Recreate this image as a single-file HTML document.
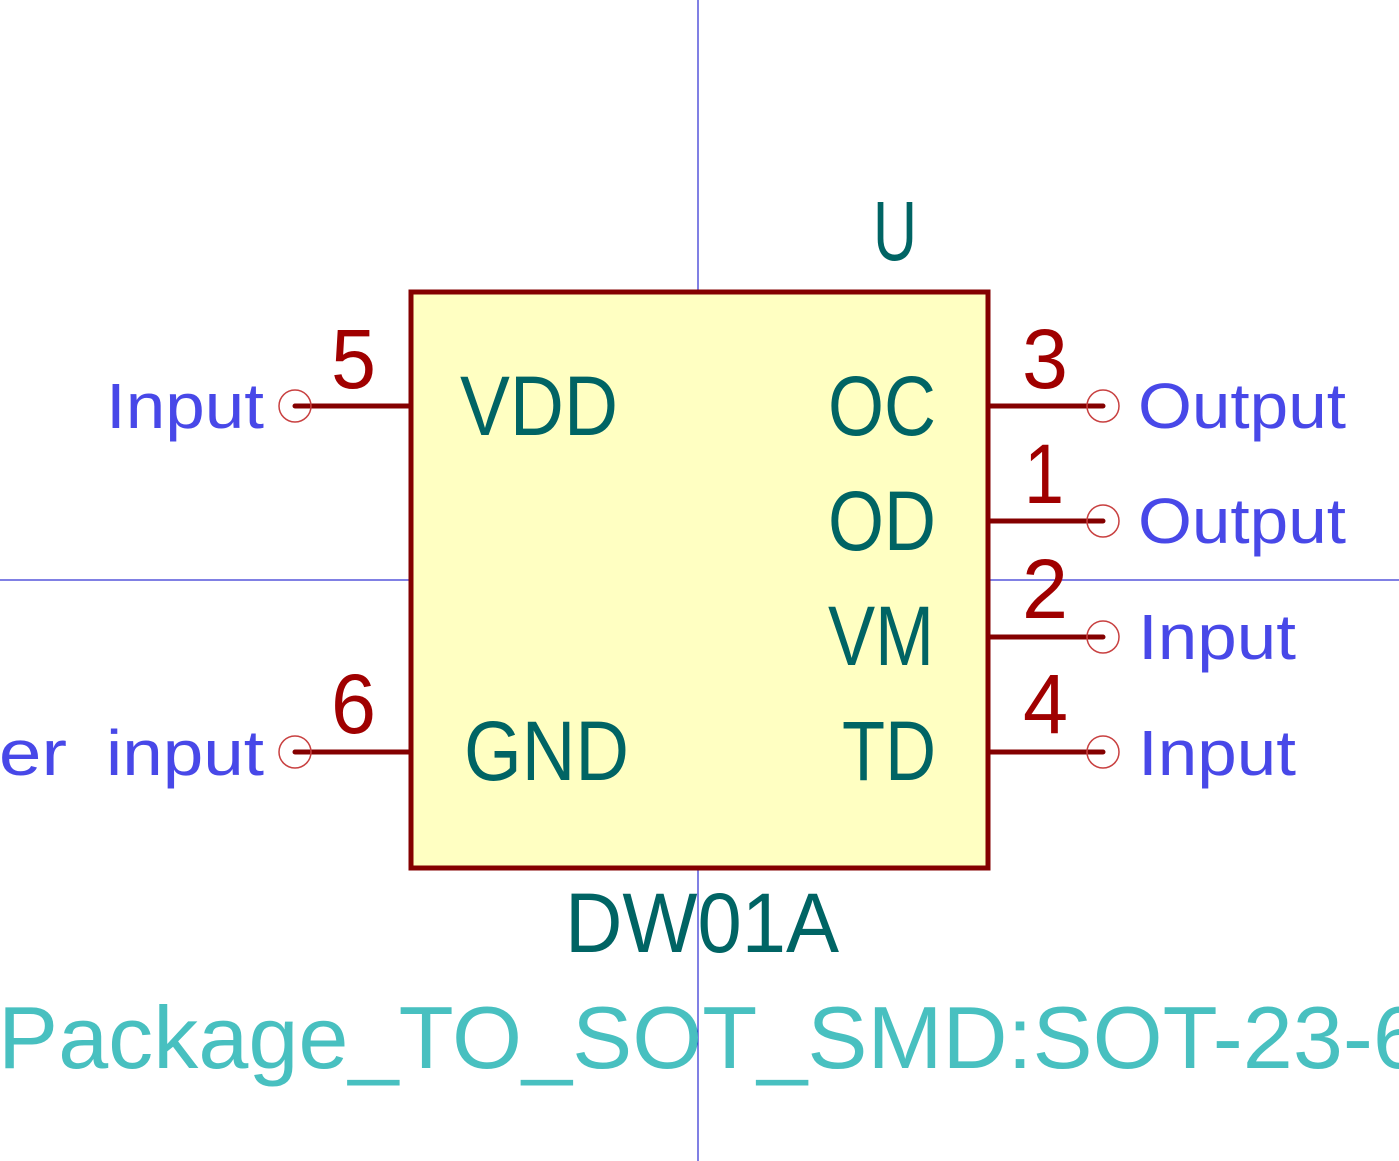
<!DOCTYPE html>
<html><head><meta charset="utf-8"><style>
html,body{margin:0;padding:0;background:#fff;}
svg{display:block;}
text{font-family:"Liberation Sans",sans-serif;}
</style></head><body>
<svg width="1399" height="1161" viewBox="0 0 1399 1161" xmlns="http://www.w3.org/2000/svg">
<rect width="1399" height="1161" fill="#fff"/>
<line x1="698" y1="0" x2="698" y2="1161" stroke="#0000c8" stroke-width="1"/>
<line x1="0" y1="580" x2="1399" y2="580" stroke="#0000c8" stroke-width="1"/>
<rect x="411" y="292" width="577" height="576" fill="#ffffc2" stroke="#840000" stroke-width="5"/>
<g stroke="#840000" stroke-width="5" stroke-linecap="round">
<line x1="295" y1="406" x2="409" y2="406"/>
<line x1="295" y1="752" x2="409" y2="752"/>
<line x1="990" y1="406" x2="1103" y2="406"/>
<line x1="990" y1="521" x2="1103" y2="521"/>
<line x1="990" y1="637" x2="1103" y2="637"/>
<line x1="990" y1="752" x2="1103" y2="752"/>
</g>
<g fill="none" stroke="#c84040" stroke-width="1.5">
<circle cx="295" cy="406" r="16"/><circle cx="295" cy="752" r="16"/>
<circle cx="1103" cy="406" r="16"/><circle cx="1103" cy="521" r="16"/>
<circle cx="1103" cy="637" r="16"/><circle cx="1103" cy="752" r="16"/>
</g>
<g fill="#006464" font-size="84">
<text x="873" y="260" textLength="44" lengthAdjust="spacingAndGlyphs">U</text>
<text x="460" y="435" textLength="158" lengthAdjust="spacingAndGlyphs">VDD</text>
<text x="828" y="435" textLength="108" lengthAdjust="spacingAndGlyphs">OC</text>
<text x="828" y="550" textLength="108" lengthAdjust="spacingAndGlyphs">OD</text>
<text x="828" y="665" textLength="106" lengthAdjust="spacingAndGlyphs">VM</text>
<text x="842" y="780" textLength="94" lengthAdjust="spacingAndGlyphs">TD</text>
<text x="464" y="780" textLength="165" lengthAdjust="spacingAndGlyphs">GND</text>
<text x="565" y="952" textLength="274" lengthAdjust="spacingAndGlyphs">DW01A</text>
</g>
<g fill="#a00000" font-size="84">
<text x="331" y="388" textLength="45" lengthAdjust="spacingAndGlyphs">5</text>
<text x="331" y="733" textLength="45" lengthAdjust="spacingAndGlyphs">6</text>
<text x="1022" y="388" textLength="46" lengthAdjust="spacingAndGlyphs">3</text>
<text x="1024" y="503" textLength="40" lengthAdjust="spacingAndGlyphs">1</text>
<text x="1022" y="618" textLength="46" lengthAdjust="spacingAndGlyphs">2</text>
<text x="1023" y="733" textLength="45" lengthAdjust="spacingAndGlyphs">4</text>
</g>
<g fill="#4848e8" font-size="64">
<text x="106" y="428" textLength="158" lengthAdjust="spacingAndGlyphs">Input</text>
<text x="-150" y="775" textLength="217" lengthAdjust="spacingAndGlyphs">Power</text>
<text x="106" y="775" textLength="158" lengthAdjust="spacingAndGlyphs">input</text>
<text x="1138" y="428" textLength="208" lengthAdjust="spacingAndGlyphs">Output</text>
<text x="1138" y="543" textLength="208" lengthAdjust="spacingAndGlyphs">Output</text>
<text x="1138" y="659" textLength="158" lengthAdjust="spacingAndGlyphs">Input</text>
<text x="1138" y="775" textLength="158" lengthAdjust="spacingAndGlyphs">Input</text>
</g>
<text x="-2" y="1068" fill="#48c0c0" font-size="88" textLength="1425" lengthAdjust="spacingAndGlyphs">Package_TO_SOT_SMD:SOT-23-6</text>
</svg>
</body></html>
